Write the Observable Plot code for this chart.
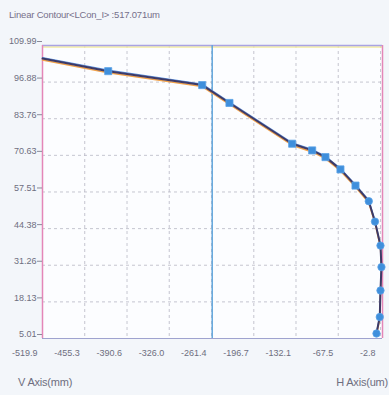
<!DOCTYPE html>
<html>
<head>
<meta charset="utf-8">
<script src="https://cdn.jsdelivr.net/npm/d3@7"></script>
<script src="https://cdn.jsdelivr.net/npm/@observablehq/plot@0.6"></script>
<style>
  html, body { margin: 0; padding: 0; background: #f3f6fa; }
  body { width: 389px; height: 395px; overflow: hidden; font-family: "Liberation Sans", Arial, sans-serif; color: #6e6e80; }
  #title { height: 30px; line-height: 30px; font-size: 9.5px; padding-left: 9px; color: #76708a; letter-spacing: -0.2px; }
  #foot { display: flex; justify-content: space-between; height: 25px; line-height: 25px; font-size: 11px; padding: 0 1px 0 18px; color: #6e6e80; letter-spacing: -0.2px; }
</style>
</head>
<body>
<div id="title">Linear Contour&lt;LCon_I&gt; :517.071um</div>
<div id="chart"></div>
<div id="foot"><span>V Axis(mm)</span><span>H Axis(um)</span></div>
<script>
const hValues = [-519.9, -419.4, -275.6, -233.9, -138.0, -107.4, -87.0, -64.1, -41.1, -20.8, -11.3, -2.9, -1.4, -2.9, -4.0, -9.0];
const vValues = [105.3, 100.8, 95.8, 89.4, 74.8, 72.4, 70.0, 65.6, 59.8, 54.2, 46.9, 38.3, 30.6, 22.2, 12.7, 6.8];
const xTicks = [-519.9, -455.3, -390.6, -326.0, -261.4, -196.7, -132.1, -67.5, -2.8];
const yTicks = [5.01, 18.13, 31.26, 44.38, 57.51, 70.63, 83.76, 96.88, 109.99];
const xDomain = [-519.9, 0.2];
const yDomain = [5.01, 109.99];
const cursorH = [-260.3];

const pts = hValues.map((h, i) => ({h, v: vValues[i], i}));
const squares = pts.filter(d => d.i >= 1 && d.i <= 8);
const circles = pts.filter(d => d.i >= 9);

const font = "'Liberation Sans', Arial, sans-serif";

const chart = Plot.plot({
  width: 389,
  height: 340,
  marginLeft: 42,
  marginRight: 7,
  marginTop: 15,
  marginBottom: 32,
  style: {background: "transparent", fontFamily: font, fontSize: "9px", color: "#6e6e80"},
  x: {domain: xDomain, label: null},
  y: {domain: yDomain, label: null},
  marks: [
    Plot.frame({fill: "#fcfdff", stroke: "none"}),
    Plot.gridX(xTicks, {stroke: "#b8b8c4", strokeOpacity: 0.8, strokeDasharray: "3,3"}),
    Plot.gridY(yTicks, {stroke: "#b8b8c4", strokeOpacity: 0.8, strokeDasharray: "3,3"}),
    Plot.ruleY([yDomain[1]], {stroke: "#f3eaa0", strokeWidth: 1.5, dy: 1.5}),
    Plot.ruleY([yDomain[1]], {stroke: "#a9a3e2", strokeWidth: 1.5}),
    Plot.ruleY([yDomain[0]], {stroke: "#9fa3cf", strokeWidth: 1.2}),
    Plot.ruleX([xDomain[0]], {stroke: "#e486b8", strokeWidth: 1.5}),
    Plot.ruleX([xDomain[1]], {stroke: "#e486b8", strokeWidth: 1.5}),
    Plot.ruleX(cursorH, {stroke: "#62a6dc", strokeWidth: 1.5}),
    Plot.axisY(yTicks, {label: null, tickSize: 5, tickPadding: 1, dy: -4, stroke: "#8a8a98", fill: "#6e6e80", tickFormat: d => d.toFixed(2), fontSize: 9}),
    Plot.axisX(xTicks, {label: null, tickSize: 0, tickPadding: 11, textAnchor: "end", dx: -5, fill: "#6e6e80", tickFormat: d => d.toFixed(1), fontSize: 9}),
    Plot.line(pts, {x: "h", y: "v", stroke: "#f2a24a", strokeWidth: 1.5, dy: 1.5}),
    Plot.line(pts, {x: "h", y: "v", stroke: "#5b8fdc", strokeWidth: 1.2, dy: -1}),
    Plot.line(pts, {x: "h", y: "v", stroke: "#3e3a66", strokeWidth: 2}),
    Plot.dot(squares, {x: "h", y: "v", symbol: "square", r: 4, fill: "#3f8fdc", stroke: "#5aa2e6", strokeWidth: 0.8}),
    Plot.dot(circles, {x: "h", y: "v", symbol: "circle", r: 3.7, fill: "#3f8fdc", stroke: "#5aa2e6", strokeWidth: 0.8})
  ]
});
document.getElementById("chart").appendChild(chart);
</script>
</body>
</html>
